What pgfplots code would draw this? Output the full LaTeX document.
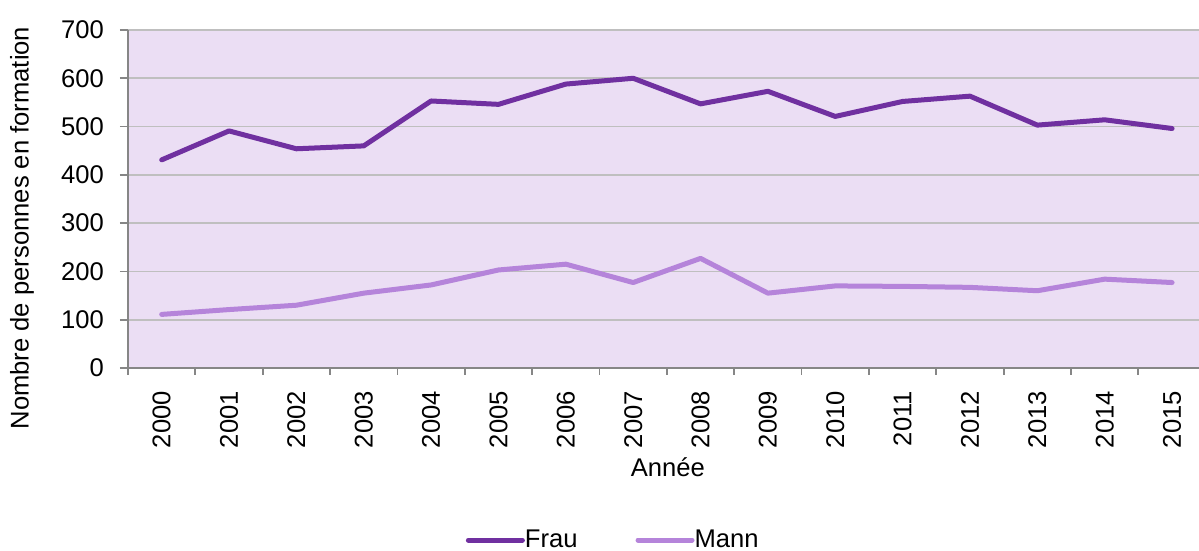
\documentclass[border=0pt]{standalone}
\usepackage{fontspec}
\setmainfont{Liberation Sans}
\usepackage{pgfplots}
\pgfplotsset{compat=1.18}
\definecolor{frau}{HTML}{7030A0}
\definecolor{mann}{HTML}{B584DA}
\definecolor{bgp}{HTML}{EBDEF4}
\definecolor{gridc}{HTML}{BFBFBF}
\definecolor{axc}{HTML}{868686}
\begin{document}
\begin{tikzpicture}
\path[use as bounding box] (0,0) rectangle (599.5pt,275.5pt);
\begin{axis}[
  at={(64pt,91.5pt)}, anchor=south west,
  scale only axis, width=535.5pt, height=169pt,
  xmin=-0.5, xmax=15.4, ymin=0, ymax=700,
  axis lines*=left,
  axis line style={draw=axc, line width=0.9pt, -},
  axis background/.style={fill=bgp},
  ytick={0,100,...,700},
  ymajorgrids, grid style={draw=gridc, line width=0.9pt},
  xtick={0,...,15},
  xticklabels={2000,2001,2002,2003,2004,2005,2006,2007,2008,2009,2010,2011,2012,2013,2014,2015},
  minor xtick={-0.5,0.5,...,15.5},
  major x tick style={draw=none},
  minor x tick style={draw=axc, line width=0.9pt},
  y tick style={draw=axc, line width=0.9pt},
  tick align=outside,
  minor tick length=3.5pt,
  major tick length=4pt,
  /pgf/number format/assume math mode=true,
  /pgf/number format/1000 sep={},
  tick label style={font=\fontsize{12.8}{15}\selectfont, text=black},
  x tick label style={rotate=90, anchor=east, yshift=0pt, xshift=-4pt},
  y tick label style={xshift=-4.5pt},
  xlabel={Année},
  ylabel={Nombre de personnes en formation},
  label style={font=\fontsize{12.8}{15}\selectfont},
  xlabel style={at={(axis description cs:0.504,-0.293)}, anchor=center},
  ylabel style={at={(axis description cs:-0.099,0.414)}, anchor=center},
  legend columns=2,
  legend style={at={(axis description cs:0.454,-0.509)}, anchor=center, draw=none, fill=none,
    font=\fontsize{12.8}{15}\selectfont,
    /tikz/every even column/.append style={column sep=27pt},
    /tikz/every odd column/.append style={column sep=-2pt}},
  legend image code/.code={\draw[#1, line cap=round] (0pt,0pt) -- (27pt,0pt);},
  clip=false,
]
\addplot[frau, line width=2.5pt, line join=round, line cap=round] coordinates {
(0,431) (1,491) (2,454) (3,460) (4,553) (5,546) (6,588) (7,600)
(8,547) (9,573) (10,521) (11,552) (12,563) (13,503) (14,514) (15,496)};
\addlegendentry{Frau}
\addplot[mann, line width=2.5pt, line join=round, line cap=round] coordinates {
(0,111) (1,121) (2,130) (3,155) (4,172) (5,203) (6,215) (7,177)
(8,227) (9,155) (10,170) (11,169) (12,167) (13,160) (14,184) (15,177)};
\addlegendentry{Mann}
\end{axis}
\end{tikzpicture}
\end{document}
